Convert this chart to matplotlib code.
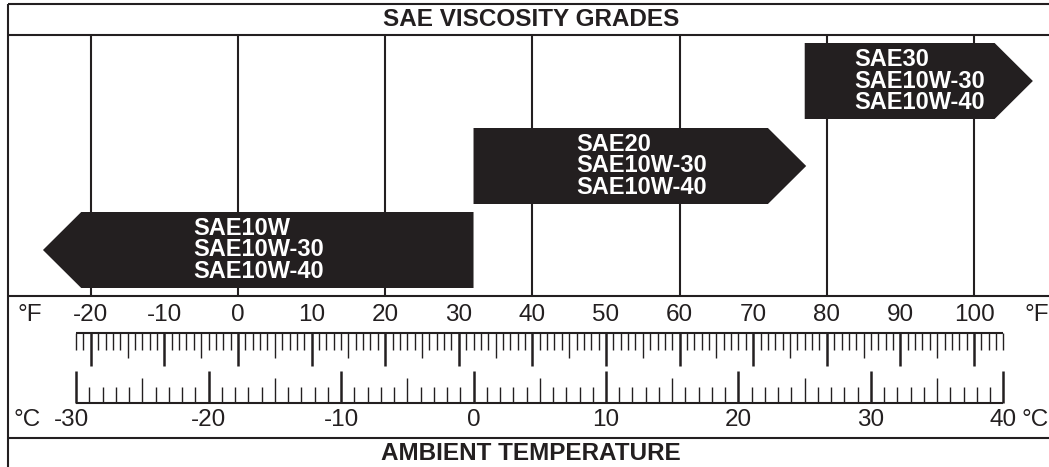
import numpy as np
import matplotlib
matplotlib.use("Agg")
import matplotlib.pyplot as plt

plt.rcParams['font.family'] = ['Liberation Sans', 'DejaVu Sans']

INK = '#231f20'

# oil grades and the temperature span (deg F) each one covers
grade_labels = [
    ["SAE10W", "SAE10W-30", "SAE10W-40"],
    ["SAE20", "SAE10W-30", "SAE10W-40"],
    ["SAE30", "SAE10W-30", "SAE10W-40"],
]
grade_flat_end_f = [32, 32, 77]     # square end of each arrow
grade_tip_f = [-26.5, 77.2, 108]   # pointed end of each arrow
grade_text_f = [-6.1, 45.9, 83.7]  # left edge of the label block

grid_f = [-20, 0, 20, 40, 60, 80, 100]
f_labels = [-20, -10, 0, 10, 20, 30, 40, 50, 60, 70, 80, 90, 100]
c_labels = [-30, -20, -10, 0, 10, 20, 30, 40]
f_range = (-22, 104)
c_range = (-30, 40)


def c_to_f(c):
    return np.asarray(c) * 9.0 / 5.0 + 32.0


# horizontal scale: 0 F sits 238 px in, 7.36 px per degree F
ZERO_PX = 238.0
PX_PER_F = 7.36
W, H = 1049, 467


def px_to_f(px):
    return (px - ZERO_PX) / PX_PER_F


fig = plt.figure(figsize=(W / 100, H / 100), dpi=100)
ax = fig.add_axes([0, 0, 1, 1])
ax.set_xlim(px_to_f(0), px_to_f(W))
ax.set_ylim(H, 0)
ax.axis('off')

left_edge = px_to_f(8)
right_edge = px_to_f(W + 5)

# frame and section dividers
ax.vlines(left_edge, 4, H, color=INK, lw=1.5)
ax.hlines([4, 35, 296, 438], left_edge, right_edge, color=INK, lw=1.5)

# vertical grid in the grades panel
ax.vlines(grid_f, 35, 296, color=INK, lw=1.5, zorder=1)

# grade arrows
bands = [(212, 288), (128, 204), (43, 119)]
head_len = 5.2
for labels, flat, tip, tx, (top, bot) in zip(grade_labels, grade_flat_end_f,
                                             grade_tip_f, grade_text_f, bands):
    direction = np.sign(tip - flat)
    base = tip - direction * head_len
    mid = (top + bot) / 2
    xs = [flat, base, tip, base, flat]
    ys = [top, top, mid, bot, bot]
    ax.fill(xs, ys, color=INK, lw=0, zorder=2)
    for i, lab in enumerate(labels):
        ax.text(tx, mid - 21.5 + 21.5 * i, lab, color='white', fontsize=17,
                fontweight='bold', ha='left', va='center', zorder=3)

ax.text(39.8, 19, "SAE VISCOSITY GRADES", fontsize=17.5, fontweight='bold',
        color=INK, ha='center', va='center')
ax.text(39.8, 453, "AMBIENT TEMPERATURE", fontsize=17.5, fontweight='bold',
        color=INK, ha='center', va='center')

LABEL_SIZE = 17.5

# Fahrenheit ruler, ticks hang down from the top rule
ruler_top = 333
ax.hlines(ruler_top, *f_range, color=INK, lw=1.5)
f_ticks = np.arange(f_range[0], f_range[1] + 1)
for f in f_ticks:
    if f % 10 == 0:
        length, lw = 33, 1.8
    elif f % 5 == 0:
        length, lw = 25, 1.0
    else:
        length, lw = 17, 1.0
    ax.vlines(f, ruler_top, ruler_top + length, color=INK, lw=lw)

for f in f_labels:
    ax.text(f, 315, str(f), fontsize=LABEL_SIZE, color=INK,
            ha='center', va='center')
ax.text(px_to_f(30), 315, "°F", fontsize=LABEL_SIZE, color=INK,
        ha='center', va='center')
ax.text(px_to_f(1037), 315, "°F", fontsize=LABEL_SIZE, color=INK,
        ha='center', va='center')

# Celsius ruler, ticks stand up from the bottom rule
ruler_bot = 403
c_lo, c_hi = c_to_f(c_range)
ax.hlines(ruler_bot, c_lo, c_hi, color=INK, lw=1.5)
c_ticks = np.arange(c_range[0], c_range[1] + 1)
for c in c_ticks:
    if c % 10 == 0:
        length, lw = 32, 1.8
    elif c % 5 == 0:
        length, lw = 25, 1.0
    else:
        length, lw = 16, 1.0
    ax.vlines(c_to_f(c), ruler_bot - length, ruler_bot, color=INK, lw=lw)

for c in c_labels:
    x = c_to_f(c)
    if c == c_range[0]:
        x -= 0.6
    ax.text(x, 420, str(c), fontsize=LABEL_SIZE, color=INK,
            ha='center', va='center')
ax.text(px_to_f(27), 420, "°C", fontsize=LABEL_SIZE, color=INK,
        ha='center', va='center')
ax.text(px_to_f(1035), 420, "°C", fontsize=LABEL_SIZE, color=INK,
        ha='center', va='center')

fig.savefig("out.png", dpi=100, facecolor='white')
